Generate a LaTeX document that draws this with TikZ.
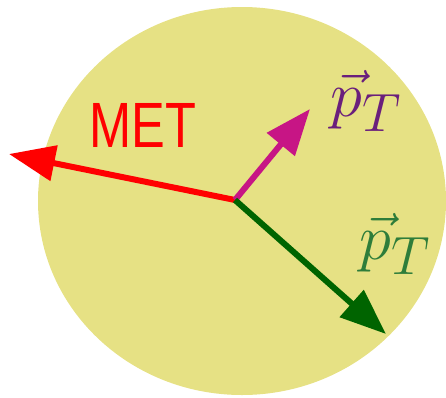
\documentclass[tikz,border=0pt]{standalone}
\usepackage{fontspec}
\newfontfamily\metfont{Liberation Sans}
\usepackage{xcolor}
\definecolor{cBlob}{HTML}{E6E184}
\definecolor{cMET}{HTML}{FF0000}
\definecolor{cLead}{HTML}{C71585}
\definecolor{cSub}{HTML}{006400}
\definecolor{cLeadTxt}{HTML}{6A1F7C}
\definecolor{cSubTxt}{HTML}{2E7D3A}
\usetikzlibrary{arrows.meta}
\newcommand{\ptvec}{\scalebox{2.6}{\Huge$\vec{p}_{T}$}}
\tikzset{
  blob/.style={fill=cBlob,draw=none},
  vec-arrow/.style={-{Triangle[length=46pt,width=35pt]},line width=6pt},
  vec-met/.style={vec-arrow,draw=cMET,fill=cMET},
  vec-lead/.style={vec-arrow,draw=cLead,fill=cLead},
  vec-sub/.style={vec-arrow,draw=cSub,fill=cSub},
  label-met/.style={text=cMET,inner sep=0pt,font=\metfont\fontsize{64}{70}\selectfont},
  label-pt/.style={inner sep=0pt},
}

\begin{document}
\begin{tikzpicture}[x=1pt,y=-1pt]
  \useasboundingbox (0,0) rectangle (446,397);
  % event blob
  \fill[blob] (242,201) ellipse [x radius=204, y radius=194];
  \coordinate (vtx) at (235,200);
  \coordinate (met) at (9,154);
  \coordinate (lead) at (310,109);
  \coordinate (sub) at (386,334);
  \draw[vec-met]  (vtx) -- (met);
  \draw[vec-lead] (vtx) -- (lead);
  \draw[vec-sub]  (vtx) -- (sub);
  \node[label-met] (metlbl) at (143,125) {\scalebox{0.79}[1]{MET}};
  \node[label-pt,text=cLeadTxt] (leadlbl) at (366,101) {\ptvec};
  \node[label-pt,text=cSubTxt] (sublbl) at (395,244) {\ptvec};
\end{tikzpicture}
\end{document}
